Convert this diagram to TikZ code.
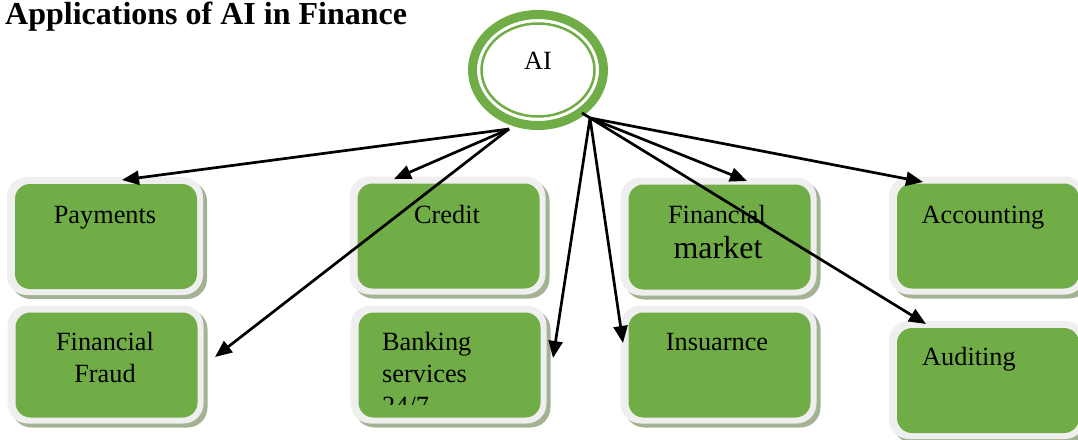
\documentclass[tikz,border=0pt]{standalone}
\usepackage{fontspec}
\setmainfont{Liberation Serif}
\usetikzlibrary{arrows.meta,shapes.geometric,shadows,calc}
\definecolor{leaf}{HTML}{70AD47}
\definecolor{framegray}{HTML}{EFEFEF}
\definecolor{shadowgreen}{HTML}{A3B292}
% one application box: light frame with shadow, green face inside
\newcommand\finbox[2]{%
  \node[boxframe] (#1) at #2 {};
  \node[boxface] (#1face) at ($(#1)+(1,0.5)$) {};
}
\begin{document}
\begin{tikzpicture}[x=1pt,y=-1pt,
  boxframe/.style={fill=framegray, rounded corners=20pt, minimum width=196pt,
    minimum height=118pt, inner sep=0pt,
    drop shadow={shadow xshift=4pt, shadow yshift=-4pt, fill=shadowgreen, opacity=1}},
  boxface/.style={fill=leaf, rounded corners=15pt, minimum width=182pt,
    minimum height=105pt, inner sep=0pt},
  boxtext/.style={font=\fontsize{26.3}{32}\selectfont, inner sep=0pt, anchor=base},
  link/.style={line width=2.7pt, -{Triangle[length=17pt,width=14pt]}}
]
\useasboundingbox (0,0) rectangle (1078,439);

% title
\node[anchor=base west, inner sep=0pt, font=\fontsize{32}{36}\selectfont\bfseries]
  (title) at (5,24) {Applications of AI in Finance};

% central AI ring
\node[ellipse, draw=leaf, line width=9pt, minimum width=131pt, minimum height=111pt,
  inner sep=0pt] (ai) at (538,70) {};
\draw[leaf, line width=2.5pt] (ai.center) ellipse [x radius=56.5, y radius=46.5];
\node[boxtext] (ailabel) at (538,69) {AI};

% application boxes
\finbox{pay}{(105,236)}
\finbox{fraud}{(105.5,364.5)}
\finbox{credit}{(447.5,235.5)}
\finbox{bank}{(448.5,364.5)}
\finbox{market}{(718.5,236.5)}
\finbox{insur}{(718.5,364.5)}
\finbox{acct}{(987,235.5)}
\finbox{audit}{(987,380)}

% box texts
\node[boxtext] (payT) at (105,223) {Payments};
\node[boxtext] (fraudT1) at (105,350) {Financial};
\node[boxtext] (fraudT2) at (105,382) {Fraud};
\node[boxtext] (creditT) at (447,223) {Credit};
\node[boxtext, anchor=base west] (bankT1) at (382,350) {Banking};
\node[boxtext, anchor=base west] (bankT2) at (382,382) {services};
\begin{scope}
  \clip (350,300) rectangle (550,404);
  \node[boxtext, anchor=base west] (bankT3) at (382,414) {24/7};
\end{scope}
\node[boxtext] (marketT1) at (717,223) {Financial};
\node[boxtext, font=\fontsize{32}{36}\selectfont] (marketT2) at (718,258) {market};
\node[boxtext] (insurT) at (717,350) {Insuarnce};
\node[boxtext] (acctT) at (983,223) {Accounting};
\node[boxtext, anchor=base west] (auditT) at (922,365) {Auditing};

% connector ends
\coordinate (fromL) at (509,129);
\coordinate (fromR) at (590,118);
\coordinate (fromAud) at (582,113);
\coordinate (tipPay) at (122,180);
\coordinate (tipCredit) at (394,179);
\coordinate (tipFraud) at (215,357);
\coordinate (tipBank) at (553,358);
\coordinate (tipIns) at (623,343);
\coordinate (tipMkt) at (747,181);
\coordinate (tipAcct) at (923,182);
\coordinate (tipAud) at (926,324);

% connectors
\draw[link] (fromL) -- (tipPay);
\draw[link] (fromL) -- (tipCredit);
\draw[link] (fromL) -- (tipFraud);
\draw[link] (fromR) -- (tipBank);
\draw[link] (fromR) -- (tipIns);
\draw[link] (fromR) -- (tipMkt);
\draw[link] (fromR) -- (tipAcct);
\draw[link] (fromAud) -- (tipAud);
\end{tikzpicture}
\end{document}
